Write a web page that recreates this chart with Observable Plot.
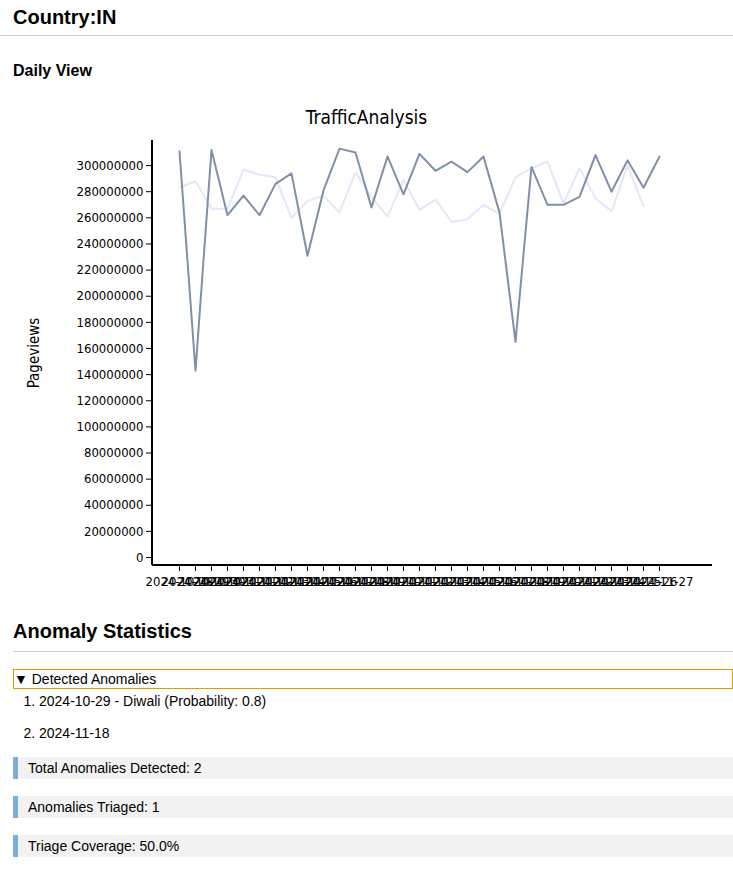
<!DOCTYPE html>
<html>
<head>
<meta charset="utf-8">
<script src="https://cdn.jsdelivr.net/npm/d3@7"></script>
<script src="https://cdn.jsdelivr.net/npm/@observablehq/plot@0.6"></script>
<style>
body{margin:0;font-family:"Liberation Sans",Helvetica,Arial,sans-serif;color:#000;background:#fff;width:733px}
h1{font-size:20px;margin:0;padding:6px 13px 0;height:29px;border-bottom:1px solid #ccc}
h3{font-size:16px;margin:0;padding:26px 13px 0;height:30px}
.title{font-family:"DejaVu Sans Condensed",sans-serif;text-align:center;font-size:19px;position:relative;top:14px;height:0;padding-left:0}
#chart_1{height:500px;margin-top:4px}
h2{font-size:20px;margin:0;padding:24px 0 8px;border-bottom:1px solid #ccc;margin-left:13px}
details{margin:17px 0 0 13px;font-size:14px}
summary{border:1px solid #e89a00;padding:1px 0;list-style:none}
ol{margin:4px 0 0;padding-left:26px}
li{height:32px;line-height:16px}
.stat{margin:0 0 17px 13px;background:#f2f2f2;border-left:5px solid #7ab0d8;font-size:14px;padding:3px 10px;height:16px}
</style>
</head>
<body>
<h1>Country:IN</h1>
<h3>Daily View</h3>
<div class="title">TrafficAnalysis</div>
<div id="chart_1"></div>
<h2>Anomaly Statistics</h2>
<details open>
<summary>▼ Detected Anomalies</summary>
<ol>
<li>2024-10-29 - Diwali (Probability: 0.8)</li>
<li>2024-11-18</li>
</ol>
</details>
<div class="stat">Total Anomalies Detected: 2</div>
<div class="stat">Anomalies Triaged: 1</div>
<div class="stat">Triage Coverage: 50.0%</div>
<script>
const dates = d3.range(31).map(i => d3.utcFormat("%Y-%m-%d")(d3.utcDay.offset(new Date(Date.UTC(2024,9,28)), i)));

const actual = [311,143,312,262,277,262,286,294,231,281,313,310,268,307,278,309,296,303,295,307,264,165,299,270,270,276,308,280,304,283,307];
const baseline = [283,288,267,267,297,293,291,260,273,277,264,295,276,261,289,266,274,257,259,270,263,291,298,303,271,298,275,265,300,269];

const yTicks = d3.range(0, 300000001, 20000000);

const actualRows = actual.map((v,i) => ({date: dates[i], value: v*1e6}));
const baseRows = baseline.map((v,i) => ({date: dates[i], value: v*1e6}));

let chart = Plot.plot({
  width: 733,
  height: 500,
  marginTop: 44,
  marginBottom: 31,
  marginLeft: 152,
  marginRight: 21,
  style: {fontFamily: "DejaVu Sans Condensed, sans-serif", fontSize: "13px", color: "#000"},
  x: {type: "point", domain: dates, range: [160, 678], label: null},
  y: {domain: [-6.1e6, 319.2e6]},
  marks: [
    Plot.axisX({tickSize: 6, tickPadding: 5, fontSize: 13, label: null}),
    Plot.axisY({ticks: yTicks, tickFormat: d => String(d), label: "Pageviews", labelAnchor: "center", labelArrow: "none", labelOffset: 124, fontSize: 13}),
    Plot.line(baseRows, {x: "date", y: "value", stroke: "#e6e6fa", strokeWidth: 2}),
    Plot.line(actualRows, {x: "date", y: "value", stroke: "#8090a8", strokeWidth: 2})
  ]
});
d3.select("#chart_1").append(() => chart);
// domain lines spanning the full frame like the original
const svg = d3.select(chart);
svg.selectAll("[aria-label='y-axis label'] text").style("font-size", "15px");
svg.append("line").attr("x1",152).attr("x2",152).attr("y1",44).attr("y2",469).attr("stroke","#000").attr("stroke-width",2);
svg.append("line").attr("x1",152).attr("x2",712).attr("y1",469).attr("y2",469).attr("stroke","#000").attr("stroke-width",2);
</script>
</body>
</html>
